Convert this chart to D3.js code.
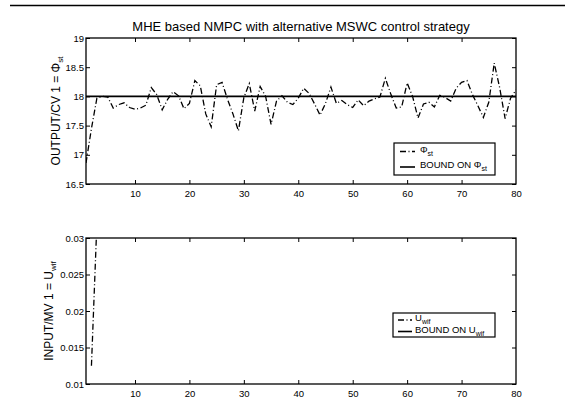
<!DOCTYPE html>
<html>
<head>
<meta charset="utf-8">
<script src="https://cdnjs.cloudflare.com/ajax/libs/d3/7.8.5/d3.min.js"></script>
<style>
body{margin:0;background:#fff;}
text{font-family:"Liberation Sans",Arial,Helvetica,sans-serif;fill:#000;}
</style>
</head>
<body>
<svg width="575" height="400"></svg>
<script>

// sample index runs 1..80
var X_TICKS = [10, 20, 30, 40, 50, 60, 70, 80];

// output / CV 1 (Phi_st), one value per sample
var PHI = [16.86, 17.45, 17.97, 18.00, 17.99, 17.80, 17.86, 17.89, 17.81, 17.78,
           17.80, 17.85, 18.15, 18.03, 17.77, 17.95, 18.08, 18.01, 17.79, 17.88,
           18.27, 18.18, 17.70, 17.48, 18.20, 18.24, 17.95, 17.70, 17.41, 17.98,
           18.22, 17.75, 18.17, 18.00, 17.52, 17.92, 18.01, 17.90, 17.86, 17.97,
           18.14, 18.05, 17.87, 17.68, 17.88, 18.16, 17.88, 17.93, 17.86, 17.81,
           17.94, 17.84, 17.92, 17.96, 17.99, 18.31, 18.04, 17.80, 17.82, 18.23,
           18.00, 17.63, 17.87, 17.90, 17.82, 18.02, 17.98, 17.92, 18.14, 18.24,
           18.27, 18.03, 17.84, 17.64, 17.90, 18.57, 18.15, 17.62, 17.97, 18.11];
var PHI_BOUND = 18;
var PHI_TICKS = [16.5, 17, 17.5, 18, 18.5, 19];

// input / MV 1 (U_wif) - only the first steps are inside the plotted range
var U_X = [2, 3];
var U = [0.0125, 0.032];
var U_BOUND = 0.05; // off the axes, only in legend
var U_TICKS = [0.01, 0.015, 0.02, 0.025, 0.03];
var U_TICK_LABELS = ["0.01", "0.015", "0.02", "0.025", "0.03"];

var svg = d3.select("svg");
var left = 86, right = 516;

// rule across the top of the page
svg.append("line")
	.attr("x1", 10).attr("x2", 565)
	.attr("y1", 5.5).attr("y2", 5.5)
	.attr("stroke", "#000").attr("stroke-width", 1.5);

svg.append("text")
	.attr("x", (left + right) / 2)
	.attr("y", 31)
	.attr("text-anchor", "middle")
	.style("font-size", "13px")
	.text("MHE based NMPC with alternative MSWC control strategy");

var DASHDOT = "6,2.5,1,2.5";

function drawPanel(p){
	var x = d3.scaleLinear().domain([1, 80]).range([left, right]);
	var y = d3.scaleLinear().domain(p.yDomain).range([p.bottom, p.top]);
	var g = svg.append("g");

	g.append("clipPath").attr("id", p.id)
		.append("rect")
		.attr("x", left).attr("y", p.top)
		.attr("width", right - left).attr("height", p.bottom - p.top);

	var plot = g.append("g").attr("clip-path", "url(#" + p.id + ")");

	// bound (solid)
	plot.append("line")
		.attr("x1", x(1)).attr("x2", x(80))
		.attr("y1", y(p.bound)).attr("y2", y(p.bound))
		.attr("stroke", "#000").attr("stroke-width", 1.6);

	var line = d3.line()
		.x(function(d){ return x(d[0]); })
		.y(function(d){ return y(d[1]); });

	plot.append("path")
		.datum(p.data)
		.attr("d", line)
		.attr("fill", "none")
		.attr("stroke", "#000")
		.attr("stroke-width", 1.3)
		.attr("stroke-dasharray", DASHDOT);

	// axes, ticks inside on all sides
	var fmt = p.yFormat;
	g.append("g").attr("transform", "translate(0," + p.bottom + ")")
		.call(d3.axisBottom(x).tickValues(X_TICKS).tickSizeInner(-4).tickSizeOuter(0).tickPadding(6));
	g.append("g").attr("transform", "translate(0," + p.top + ")")
		.call(d3.axisTop(x).tickValues(X_TICKS).tickSizeInner(-4).tickSizeOuter(0).tickFormat(""));
	g.append("g").attr("transform", "translate(" + left + ",0)")
		.call(d3.axisLeft(y).tickValues(p.yTicks).tickSizeInner(-4).tickSizeOuter(0).tickPadding(2).tickFormat(fmt));
	g.append("g").attr("transform", "translate(" + right + ",0)")
		.call(d3.axisRight(y).tickValues(p.yTicks).tickSizeInner(-4).tickSizeOuter(0).tickFormat(""));

	g.selectAll(".domain").remove();
	g.selectAll(".tick line").attr("stroke", "#000").attr("stroke-width", 1);
	g.selectAll(".tick text").style("font-size", "9.5px").attr("fill", "#000")
		.style("font-family", "'Liberation Sans',Arial,sans-serif");
	// hide the tick mark at the very corner
	g.selectAll(".tick").filter(function(d){ return d === 80; }).select("line").remove();

	g.append("rect")
		.attr("x", left).attr("y", p.top)
		.attr("width", right - left).attr("height", p.bottom - p.top)
		.attr("fill", "none").attr("stroke", "#000").attr("stroke-width", 1.3);

	// y label
	var yl = g.append("text")
		.attr("transform", "translate(" + p.labelX + "," + ((p.top + p.bottom) / 2) + ") rotate(-90)")
		.attr("text-anchor", "middle")
		.style("font-size", "12px");
	yl.append("tspan").text(p.label);
	yl.append("tspan").attr("dy", 3).style("font-size", "8px").text(p.sub);

	// legend
	var L = p.legend;
	var lg = g.append("g").attr("transform", "translate(" + L.x + "," + L.y + ")");
	lg.append("rect")
		.attr("width", L.w).attr("height", L.h)
		.attr("fill", "#fff").attr("stroke", "#000").attr("stroke-width", 1.2);
	L.rows.forEach(function(r, i){
		var ry = L.rowY[i];
		lg.append("line")
			.attr("x1", L.lineX[0]).attr("x2", L.lineX[1]).attr("y1", ry).attr("y2", ry)
			.attr("stroke", "#000")
			.attr("stroke-width", r.dash ? 1.3 : 1.6)
			.attr("stroke-dasharray", r.dash ? DASHDOT : null);
		var t = lg.append("text").attr("x", L.textX).attr("y", ry + 1).style("font-size", "9.5px");
		t.append("tspan").text(r.text);
		t.append("tspan").attr("dy", 3).style("font-size", "7px").text(r.sub);
	});
}

drawPanel({
	id: "clipTop", top: 38, bottom: 184,
	yDomain: [16.5, 19], yTicks: PHI_TICKS, yFormat: d3.format(""),
	data: PHI.map(function(v, i){ return [i + 1, v]; }),
	bound: PHI_BOUND,
	label: "OUTPUT/CV 1 = \u03A6", sub: "st", labelX: 60,
	legend: { x: 394, y: 143, w: 101, h: 32, rowY: [8.5, 24], lineX: [6, 21], textX: 26,
		rows: [{ text: "\u03A6", sub: "st", dash: true }, { text: "BOUND ON \u03A6", sub: "st", dash: false }] }
});

drawPanel({
	id: "clipBottom", top: 238, bottom: 384,
	yDomain: [0.01, 0.03], yTicks: U_TICKS,
	yFormat: function(d, i){ return U_TICK_LABELS[i]; },
	data: U.map(function(v, i){ return [U_X[i], v]; }),
	bound: U_BOUND,
	label: "INPUT/MV 1 = U", sub: "wif", labelX: 53,
	legend: { x: 393, y: 313, w: 102, h: 24, rowY: [7, 18.5], lineX: [5, 19], textX: 22,
		rows: [{ text: "U", sub: "wif", dash: true }, { text: "BOUND ON U", sub: "wif", dash: false }] }
});

</script>
</body>
</html>
